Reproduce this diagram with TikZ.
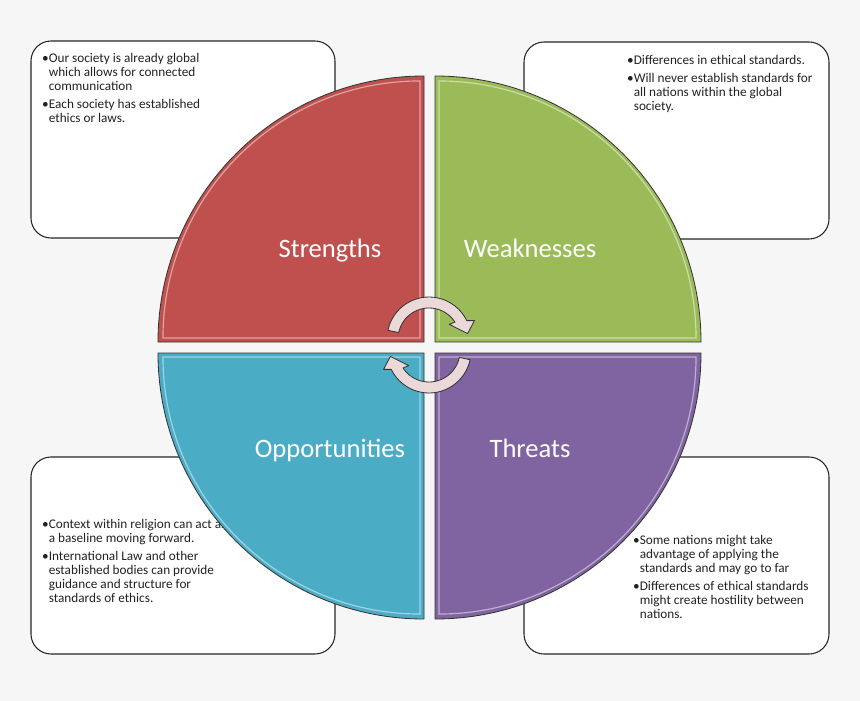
\documentclass[tikz,border=0pt]{standalone}
\usepackage{fontspec}
\setmainfont{Carlito}
\usetikzlibrary{calc}
\definecolor{swotred}{HTML}{C0504D}
\definecolor{swotgreen}{HTML}{9BBB59}
\definecolor{swotpurple}{HTML}{8064A2}
\definecolor{swotblue}{HTML}{4BACC6}
\definecolor{bggray}{HTML}{F6F6F6}
\definecolor{textgray}{HTML}{222222}
\definecolor{arrowpink}{HTML}{EBD8D8}
\newcommand{\bul}{\textbullet}
\newcommand{\ind}{\hphantom{\textbullet}}

\begin{document}
\begin{tikzpicture}[x=0.03cm, y=-0.03cm,
    notebox/.style={draw=black!85, line width=0.9pt, fill=white, rounded corners=0.6cm},
    notetext/.style={font=\fontsize{11.3}{11.9}\selectfont, text=textgray, align=left, anchor=north west, inner sep=0pt},
    quadlabel/.style={font=\fontsize{22.7}{26}\selectfont, text=white, anchor=base},
    arrowbody/.style={fill=arrowpink, draw=black!80, line width=0.7pt, line join=round}]

    % Background
    \fill[bggray] (0,0) rectangle (860,701);

    % Note boxes behind the circle
    \draw[notebox] (31,41) rectangle (335,238);
    \draw[notebox] (524,42) rectangle (829,239);
    \draw[notebox] (31,457) rectangle (335,654);
    \draw[notebox] (524,457) rectangle (829,654);

    \node[notetext] (strtxt) at (42,53) {\bul Our society is already global\\
        \ind which allows for connected\\
        \ind communication\\[3.4pt]
        \bul Each society has established\\
        \ind ethics or laws.};
    \node[notetext] (weaktxt) at (627,55) {\bul Differences in ethical standards.\\[3.4pt]
        \bul Will never establish standards for\\
        \ind all nations within the global\\
        \ind society.};
    \node[notetext] (opptxt) at (42,519) {\bul Context within religion can act as\\
        \ind a baseline moving forward.\\[3.4pt]
        \bul International Law and other\\
        \ind established bodies can provide\\
        \ind guidance and structure for\\
        \ind standards of ethics.};
    \node[notetext] (thrtxt) at (633,535) {\bul Some nations might take\\
        \ind advantage of applying the\\
        \ind standards and may go to far\\[3.4pt]
        \bul Differences of ethical standards\\
        \ind might create hostility between\\
        \ind nations.};

    % Quadrants
    \foreach \cx/\cy/\a/\col/\lab/\nm/\bx/\by in {424/342/180/swotred/Strengths/str/330/257,
        435/342/270/swotgreen/Weaknesses/weak/530/257,
        435/353/0/swotpurple/Threats/thr/530/457,
        424/353/90/swotblue/Opportunities/opp/330/457} {
        \begin{scope}[shift={(\cx,\cy)}]
            \fill[\col] (0,0) -- (\a:266) arc[start angle=\a, end angle=\a+90, radius=266] -- cycle;
            % glossy rim
            \draw[\col!30!white, line width=1pt, opacity=0.7] (\a+45:5.7) -- ++(\a:257)
                arc[start angle=\a, end angle=\a+90, radius=257] -- cycle;
            \draw[black!80, line width=0.7pt] (0,0) -- (\a:266)
                arc[start angle=\a, end angle=\a+90, radius=266] -- cycle;
        \end{scope}
        \node[quadlabel] (\nm) at (\bx,\by) {\lab};
    }

    % Cycle arrows
    \begin{scope}[shift={(429,339)}]
        \draw[arrowbody] (-168:42) arc[start angle=-168, end angle=-26, radius=42]
            -- (-22:49) -- (-8:39) -- (-36:25) -- (-33:31)
            arc[start angle=-33, end angle=-168, radius=31] -- cycle;
    \end{scope}
    \begin{scope}[shift={(429,351)}, rotate=180]
        \draw[arrowbody] (-168:42) arc[start angle=-168, end angle=-26, radius=42]
            -- (-22:49) -- (-8:39) -- (-36:25) -- (-33:31)
            arc[start angle=-33, end angle=-168, radius=31] -- cycle;
    \end{scope}

\end{tikzpicture}
\end{document}
